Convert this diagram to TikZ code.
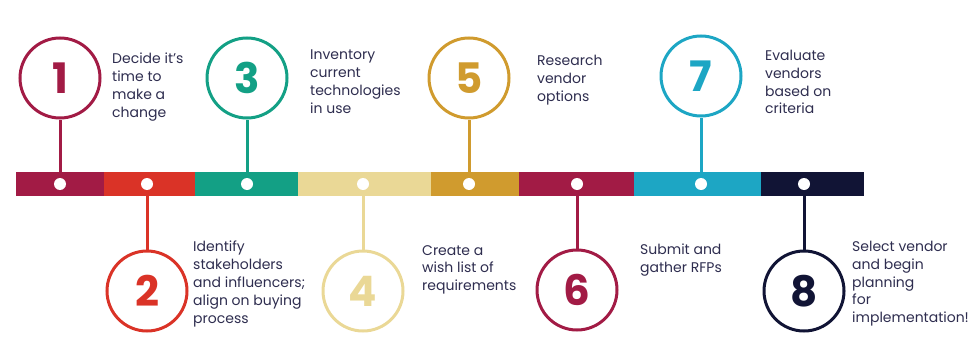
\documentclass[tikz,border=0pt]{standalone}
\usepackage{fontspec}
\setmainfont{Poppins}
\definecolor{cA}{HTML}{A21B45}
\definecolor{cB}{HTML}{DA3327}
\definecolor{cC}{HTML}{13A085}
\definecolor{cD}{HTML}{EAD896}
\definecolor{cE}{HTML}{D09B2E}
\definecolor{cF}{HTML}{A21B45}
\definecolor{cG}{HTML}{1DA6C4}
\definecolor{cH}{HTML}{111435}
\definecolor{txt}{HTML}{2E2D4F}
\tikzset{
  numcirc/.style={circle, draw=#1, line width=3pt, minimum size=80pt, inner sep=0pt,
    text=#1, font=\fontsize{42}{42}\selectfont\bfseries},
  dot/.style={circle, fill=white, minimum size=12pt, inner sep=0pt},
  stem/.style={draw=#1, line width=3pt},
  label/.style={anchor=north west, align=left, inner sep=0pt, text=txt,
    font=\fontsize{14}{17.8}\selectfont},
}
\begin{document}
\begin{tikzpicture}[x=1pt,y=-1pt]
\useasboundingbox (0,0) rectangle (974,345);
% bar segments
\fill[cA] (16,172) rectangle (104,196);
\fill[cB] (104,172) rectangle (195,196);
\fill[cC] (195,172) rectangle (298,196);
\fill[cD] (298,172) rectangle (431,196);
\fill[cE] (431,172) rectangle (519,196);
\fill[cF] (519,172) rectangle (634,196);
\fill[cG] (634,172) rectangle (761,196);
\fill[cH] (761,172) rectangle (864,196);
% circles
\node[numcirc=cA] (c1) at (60,78) {1};
\node[numcirc=cB] (c2) at (147,291) {2};
\node[numcirc=cC] (c3) at (247,78) {3};
\node[numcirc=cD] (c4) at (363,291) {4};
\node[numcirc=cE] (c5) at (469,78) {5};
\node[numcirc=cF] (c6) at (577,290) {6};
\node[numcirc=cG] (c7) at (701,76) {7};
\node[numcirc=cH] (c8) at (804,291) {8};
% dot coordinates
\coordinate (d1) at (60,184);
\coordinate (d2) at (147,184);
\coordinate (d3) at (247,184);
\coordinate (d4) at (363,184);
\coordinate (d5) at (469,184);
\coordinate (d6) at (577,184);
\coordinate (d7) at (701,184);
\coordinate (d8) at (804,184);
% stems
\draw[stem=cA] (c1.south) -- (d1);
\draw[stem=cB] (c2.north) -- (d2);
\draw[stem=cC] (c3.south) -- (d3);
\draw[stem=cD] (c4.north) -- (d4);
\draw[stem=cE] (c5.south) -- (d5);
\draw[stem=cF] (c6.north) -- (d6);
\draw[stem=cG] (c7.south) -- (d7);
\draw[stem=cH] (c8.north) -- (d8);
% dots
\foreach \i in {1,...,8} \node[dot] (dot\i) at (d\i) {};
% labels
\node[label] (t1) at (112,53) {Decide it’s\\time to\\make a\\change};
\node[label] (t3) at (310,50) {Inventory\\current\\technologies\\in use};
\node[label] (t5) at (537,55) {Research\\vendor\\options};
\node[label] (t7) at (765,50) {Evaluate\\vendors\\based on\\criteria};
\node[label] (t2) at (193,241) {Identify\\stakeholders\\and influencers;\\align on buying\\process};
\node[label] (t4) at (422,245) {Create a\\wish list of\\requirements};
\node[label] (t6) at (640,244) {Submit and\\gather RFPs};
\node[label] (t8) at (852,241) {Select vendor\\and begin\\planning\\for\\implementation!};
\end{tikzpicture}
\end{document}
